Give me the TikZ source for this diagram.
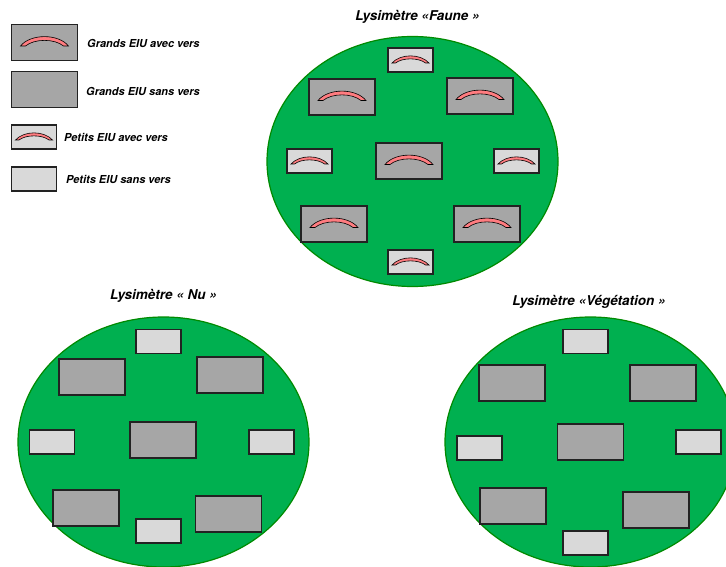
\documentclass[tikz,border=0pt]{standalone}
\usepackage{fontspec}
\setmainfont{TeX Gyre Heros}
\definecolor{herbe}{HTML}{00B050}
\definecolor{bord}{HTML}{008A00}
\definecolor{grandgris}{HTML}{A6A6A6}
\definecolor{petitgris}{HTML}{D9D9D9}
\definecolor{rose}{HTML}{FF7C80}
\definecolor{cadre}{HTML}{222222}
\tikzset{
    lysimetre/.style={ellipse,draw=bord,fill=herbe,line width=1.2,inner sep=0,minimum width=291,minimum height=250},
    grand/.style={rectangle,draw=cadre,fill=grandgris,line width=1.3,inner sep=0,minimum width=66,minimum height=36},
    petit/.style={rectangle,draw=cadre,fill=petitgris,line width=1.3,inner sep=0,minimum width=45,minimum height=24},
    titre/.style={font=\fontsize{13.5pt}{13.5pt}\selectfont\bfseries\itshape},
    legende/.style={anchor=west,inner sep=0,font=\fontsize{11pt}{11pt}\selectfont\bfseries\itshape},
    ver/.style={draw=black,fill=rose,line width=0.6},
    grandver/.pic={\draw [ver] (-24,3.5) .. controls (-14,-9) and (14,-9) .. (24,3.5) -- (19,3.5) .. controls (10,-4) and (-10,-4) .. (-19,3.5) -- cycle;},
    petitver/.pic={\draw [ver] (-18.5,3) .. controls (-10,-6.5) and (10,-6.5) .. (18.5,3) -- (15,3) .. controls (8,-2.5) and (-8,-2.5) .. (-15,3) -- cycle;}
}
\usetikzlibrary{shapes.geometric}
\begin{document}
\begin{tikzpicture}[x=1pt,y=-1pt]
    \useasboundingbox (0,0) rectangle (726,567);
    \clip (0,0) rectangle (726,567);
    % legend
    \node (grandavec) [grand] at (44.5,42.5) {};
    \pic at (grandavec) {grandver};
    \node (grandavectxt) [legende] at (87,43) {Grands EIU avec vers};
    \node (grandsans) [grand] at (44.5,89.5) {};
    \node (grandsanstxt) [legende] at (86,91) {Grands EIU sans vers};
    \node (petitavec) [petit] at (34,137) {};
    \pic at (petitavec) {petitver};
    \node (petitavectxt) [legende] at (64,137) {Petits EIU avec vers};
    \node (petitsans) [petit] at (34,179) {};
    \node (petitsanstxt) [legende] at (66,179) {Petits EIU sans vers};
    % lysimeter Faune
    \node (faunetitre) [titre] at (417.5,17) {Lysimètre «Faune »};
    \node (faune) [lysimetre] at (412.5,161.5) {};
    \node (fauneA) [petit] at (410.5,60) {};
    \pic at (fauneA) {petitver};
    \node (fauneB) [grand] at (342,97) {};
    \pic at (fauneB) {grandver};
    \node (fauneC) [grand] at (480,96) {};
    \pic at (fauneC) {grandver};
    \node (fauneD) [petit] at (309.5,161) {};
    \pic at (fauneD) {petitver};
    \node (fauneE) [grand] at (409,161) {};
    \pic at (fauneE) {grandver};
    \node (fauneF) [petit] at (516.5,161) {};
    \pic at (fauneF) {petitver};
    \node (fauneG) [grand] at (334,224) {};
    \pic at (fauneG) {grandver};
    \node (fauneH) [grand] at (487,224) {};
    \pic at (fauneH) {grandver};
    \node (fauneI) [petit] at (410.5,262) {};
    \pic at (fauneI) {petitver};
    % lysimeter Nu
    \node (nutitre) [titre] at (163.5,296) {Lysimètre « Nu »};
    \node (nu) [lysimetre] at (163.5,442) {};
    \node (nuA) [petit] at (158.5,341.5) {};
    \node (nuB) [grand] at (92,377) {};
    \node (nuC) [grand] at (230,375) {};
    \node (nuD) [petit] at (52,442) {};
    \node (nuE) [grand] at (163,440) {};
    \node (nuF) [petit] at (271.5,442) {};
    \node (nuG) [grand] at (86,508) {};
    \node (nuH) [grand] at (228.5,514) {};
    \node (nuI) [petit] at (158.5,531) {};
    % lysimeter Vegetation
    \node (vegtitre) [titre] at (589,302) {Lysimètre «Végétation »};
    \node (veg) [lysimetre] at (590.5,442) {};
    \node (vegA) [petit] at (585.5,341.5) {};
    \node (vegB) [grand] at (512,383) {};
    \node (vegC) [grand] at (663,383) {};
    \node (vegD) [petit] at (479.5,448) {};
    \node (vegE) [grand] at (590.5,442) {};
    \node (vegF) [petit] at (698.5,442) {};
    \node (vegG) [grand] at (513,506) {};
    \node (vegH) [grand] at (656,510) {};
    \node (vegI) [petit] at (585.5,543) {};
\end{tikzpicture}
\end{document}
